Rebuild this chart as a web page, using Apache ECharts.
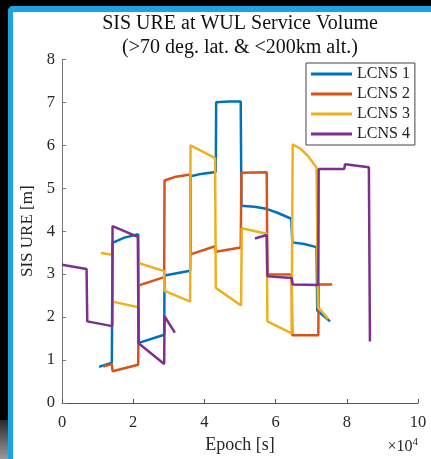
<!DOCTYPE html>
<html>
<head>
<meta charset="utf-8">
<script src="https://cdn.jsdelivr.net/npm/echarts@6/dist/echarts.min.js"></script>
<style>
  html, body { margin: 0; padding: 0; background: #000; }
  #frame {
    position: absolute; left: 8px; top: 6px; right: 0; bottom: 0;
    background: #fff;
    border-left: 5px solid #1ba3e3; border-top: 6px solid #1ba3e3;
    border-top-left-radius: 5px;
  }
  #corner {
    position: absolute; left: 0; top: 420px; width: 8px; height: 39px;
    background: linear-gradient(#2a2a2a, #9a9a9a);
  }
  #chart { position: absolute; left: 0; top: 0; width: 431px; height: 459px; }
</style>
</head>
<body>
<div id="frame"></div>
<div id="corner"></div>
<div id="chart"></div>
<script>
// epoch in units of 1e4 s, SIS URE in m
const seriesNames = ['LCNS 1', 'LCNS 2', 'LCNS 3', 'LCNS 4']
const colors = ['#0072BD', '#D95319', '#EDB120', '#7E2F8E']

const lcns1 = [
  [1.04, 0.84], [1.40, 0.94], [1.42, 3.73], [1.75, 3.85], [2.14, 3.93], [2.16, 1.40],
  [2.87, 1.59], [2.88, 2.97], [3.60, 3.08], [3.61, 5.28], [3.95, 5.34], [4.32, 5.38],
  [4.33, 7.00], [4.68, 7.02], [5.02, 7.02], [5.04, 4.59], [5.40, 4.57], [5.70, 4.53],
  [6.05, 4.43], [6.44, 4.29], [6.47, 3.74], [6.80, 3.70], [7.15, 3.63], [7.17, 2.15],
  [7.53, 1.90]
]
const lcns2 = [
  [1.16, 0.85], [1.40, 0.91], [1.42, 0.74], [2.14, 0.89], [2.16, 2.74], [2.87, 2.93],
  [2.88, 5.18], [3.20, 5.27], [3.60, 5.32], [3.61, 3.46], [4.30, 3.65], [4.32, 3.52],
  [5.02, 3.62], [5.04, 5.36], [5.75, 5.37], [5.77, 3.00], [6.45, 2.99], [6.47, 1.58],
  [7.20, 1.58], [7.21, 2.76], [7.59, 2.76]
]
const lcns3 = [
  [1.09, 3.49], [1.41, 3.45], [1.42, 2.36], [2.14, 2.23], [2.15, 3.26], [2.87, 3.07],
  [2.88, 2.61], [3.60, 2.36], [3.61, 6.00], [4.30, 5.70], [4.32, 2.68], [5.03, 2.27],
  [5.05, 4.07], [5.75, 3.94], [5.77, 1.90], [6.45, 1.62], [6.48, 6.02], [6.70, 5.92],
  [6.92, 5.74], [7.15, 5.48], [7.19, 2.23], [7.48, 1.96]
]
const lcns4 = [
  [0.00, 3.22], [0.69, 3.12], [0.71, 1.90], [1.41, 1.79], [1.42, 4.12], [2.13, 3.87],
  [2.15, 1.39], [2.87, 0.91], [2.88, 2.02], [3.17, 1.64], null,
  [5.42, 3.83], [5.75, 3.91], [5.77, 2.95], [6.45, 2.91], [6.48, 2.76], [7.20, 2.75],
  [7.21, 5.45], [7.93, 5.45], [7.95, 5.56], [8.62, 5.49], [8.65, 1.43]
]
const allSeries = [lcns1, lcns2, lcns3, lcns4]

const xTicks = [0, 2, 4, 6, 8, 10]
const yTicks = [0, 1, 2, 3, 4, 5, 6, 7, 8]

const serif = 'Liberation Serif'
const chart = echarts.init(document.getElementById('chart'))

chart.setOption({
  animation: false,
  backgroundColor: 'transparent',
  title: {
    text: 'SIS URE at WUL Service Volume\n(>70 deg. lat. & <200km alt.)',
    left: 240,
    top: 12,
    textAlign: 'center',
    padding: 0,
    textStyle: { fontFamily: serif, fontSize: 20, fontWeight: 'normal', color: '#111', lineHeight: 23.5 },
  },
  grid: { left: 62, right: 13, top: 59.4, bottom: 50, containLabel: false },
  legend: {
    orient: 'vertical',
    left: 306,
    top: 63,
    padding: [3, 5, 3, 5],
    itemGap: 4,
    itemWidth: 41,
    itemHeight: 3,
    icon: 'rect',
    borderColor: '#444',
    borderWidth: 1,
    backgroundColor: '#fff',
    textStyle: { fontFamily: serif, fontSize: 16, color: '#222', lineHeight: 15 },
    data: seriesNames,
  },
  xAxis: {
    type: 'value',
    min: xTicks[0],
    max: xTicks[xTicks.length - 1],
    interval: 2,
    name: 'Epoch [s]',
    nameLocation: 'middle',
    nameGap: 33,
    nameTextStyle: { fontFamily: serif, fontSize: 18, color: '#262626' },
    axisLine: { show: true, lineStyle: { color: '#555', width: 1 } },
    axisTick: { show: true, inside: true, length: 4, lineStyle: { color: '#555' } },
    axisLabel: { fontFamily: serif, fontSize: 16.5, color: '#262626', margin: 11 },
    splitLine: { show: false },
  },
  yAxis: {
    type: 'value',
    min: yTicks[0],
    max: yTicks[yTicks.length - 1],
    interval: 1,
    name: 'SIS URE [m]',
    nameLocation: 'middle',
    nameGap: 16,
    nameTextStyle: { fontFamily: serif, fontSize: 17, color: '#262626' },
    axisLine: { show: true, lineStyle: { color: '#777', width: 1 } },
    axisTick: { show: true, inside: true, length: 4, lineStyle: { color: '#777' } },
    axisLabel: { fontFamily: serif, fontSize: 16.5, color: '#262626', margin: 7 },
    splitLine: { show: false },
  },
  graphic: [
    {
      type: 'text',
      right: 13,
      top: 437,
      style: {
        text: '×10{sup|4}',
        fontFamily: serif,
        fontSize: 16,
        fill: '#262626',
        rich: { sup: { fontFamily: serif, fontSize: 11, verticalAlign: 'top', padding: [0, 0, 8, 0] } },
      },
    },
  ],
  series: allSeries.map((data, i) => ({
    name: seriesNames[i],
    type: 'line',
    data: data,
    showSymbol: false,
    symbol: 'none',
    connectNulls: false,
    lineStyle: { width: 2.5, color: colors[i] },
    itemStyle: { color: colors[i] },
    z: 2 + i,
  })),
})
</script>
</body>
</html>
